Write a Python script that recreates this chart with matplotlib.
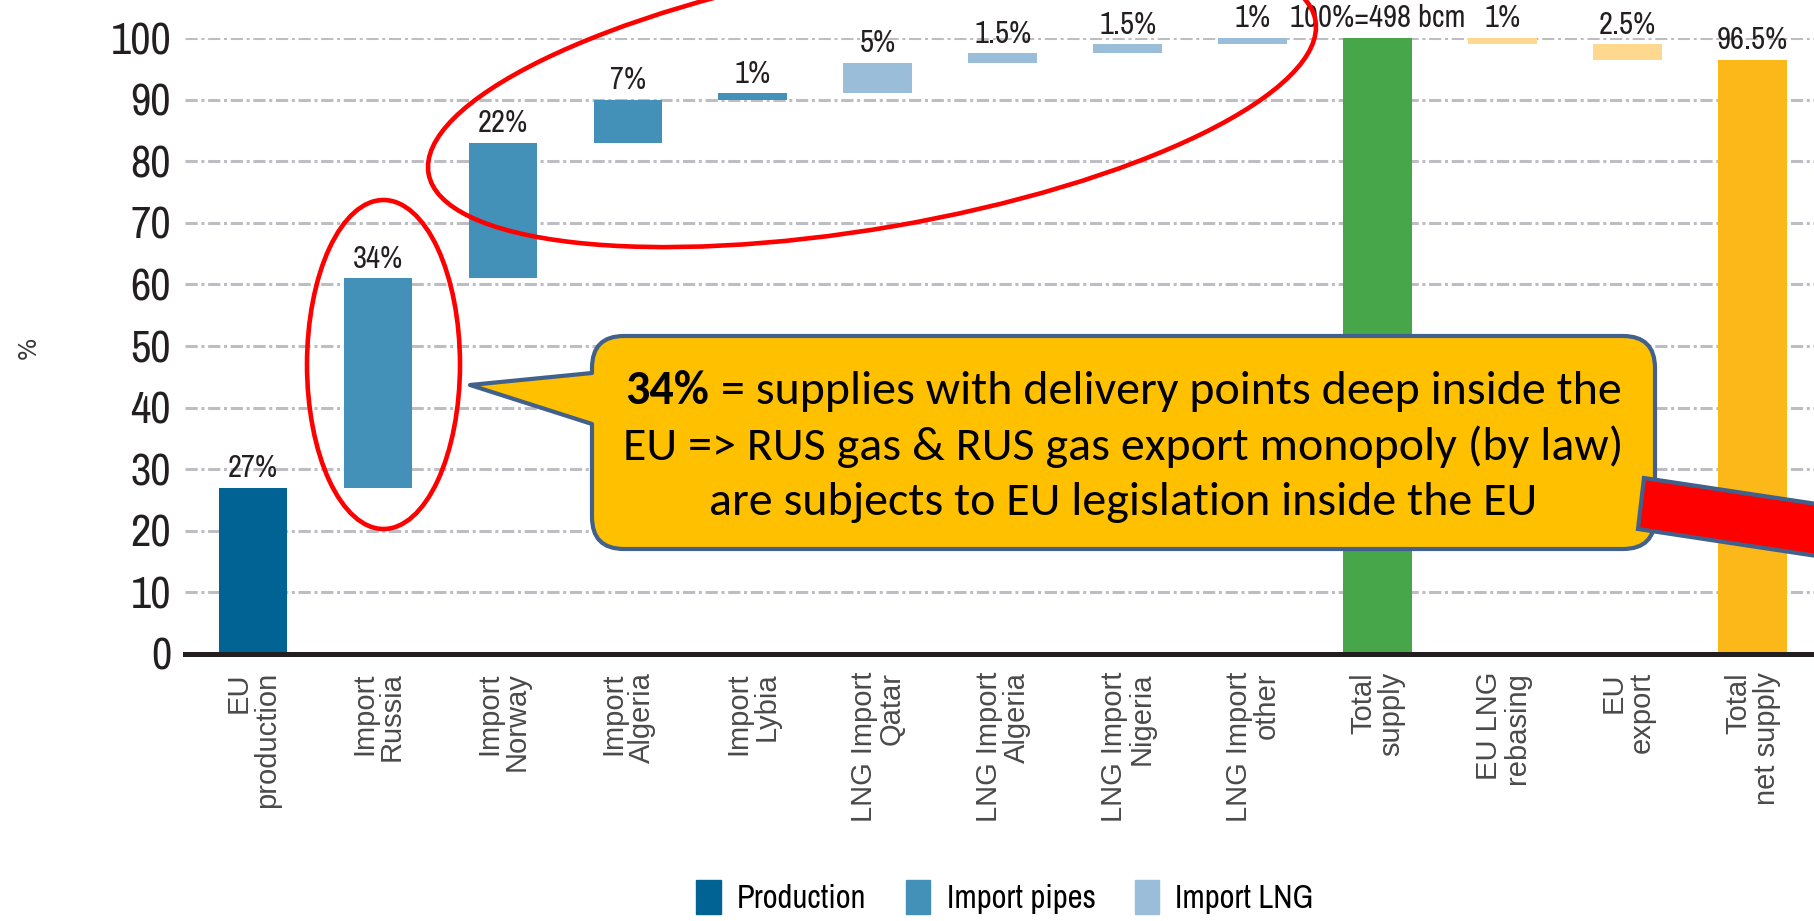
import matplotlib
matplotlib.use("Agg")
import matplotlib.pyplot as plt
from matplotlib.patches import Ellipse, Patch, PathPatch, Polygon
from matplotlib.path import Path

# --- data -------------------------------------------------------------
categories = ["EU\nproduction", "Import\nRussia", "Import\nNorway", "Import\nAlgeria",
              "Import\nLybia", "LNG Import\nQatar", "LNG Import\nAlgeria",
              "LNG Import\nNigeria", "LNG Import\nother", "Total\nsupply",
              "EU LNG\nrebasing", "EU\nexport", "Total\nnet supply"]
# step of each bar in % (None = total bar drawn from 0)
steps = [27, 34, 22, 7, 1, 5, 1.5, 1.5, 1, None, -1, -2.5, None]
value_labels = ["27%", "34%", "22%", "7%", "1%", "5%", "1.5%", "1.5%", "1%",
                "100%=498 bcm", "1%", "2.5%", "96.5%"]
kinds = ["Production", "Import pipes", "Import pipes", "Import pipes", "Import pipes",
         "Import LNG", "Import LNG", "Import LNG", "Import LNG",
         "total", "minus", "minus", "net"]
legend_items = ["Production", "Import pipes", "Import LNG"]

colors = {"Production": "#006393", "Import pipes": "#4390B8", "Import LNG": "#9ABEDA",
          "total": "#47A64A", "minus": "#FDD88E", "net": "#FBB818"}

callout_bold = "34%"
callout_lines = [" = supplies with delivery points deep inside the",
                 "EU => RUS gas & RUS gas export monopoly (by law)",
                 "are subjects to EU legislation inside the EU"]

# waterfall bottoms / heights
bottoms, heights = [], []
level = 0
for s in steps:
    if s is None:
        bottoms.append(0)
        heights.append(level)
    elif s >= 0:
        bottoms.append(level)
        heights.append(s)
        level += s
    else:
        level += s
        bottoms.append(level)
        heights.append(-s)

# --- figure -----------------------------------------------------------
W, H = 1814, 921
fig = plt.figure(figsize=(W / 100, H / 100), dpi=100)
narrow = ["Archivo Narrow", "Roboto Condensed", "DejaVu Sans"]

ax = fig.add_axes([185 / W, 1 - 654 / H, 1637 / W, 616 / H])
x = list(range(len(categories)))
ax.bar(x, heights, bottom=bottoms, width=0.55,
       color=[colors[k] for k in kinds], zorder=3)

for i in x:
    top = bottoms[i] + heights[i]
    ax.annotate(value_labels[i], (i, top), xytext=(0, 4), textcoords="offset points",
                ha="center", va="bottom", fontsize=22, family=narrow,
                color="#231F20", annotation_clip=False)

ax.set_xlim(-0.544, len(categories) - 0.444)
ax.set_ylim(0, 100)
ax.set_yticks(range(0, 101, 10))
ax.set_xticks(x)
ax.set_xticklabels(categories, rotation=90, ha="center", va="top",
                   multialignment="right", linespacing=1.0,
                   fontsize=21, family=["Liberation Sans", "DejaVu Sans"], color="#4A4A4A")
ax.tick_params(axis="x", length=0, pad=13)
ax.tick_params(axis="y", length=0, pad=10, labelsize=32, labelcolor="#231F20")
for lab in ax.get_yticklabels():
    lab.set_family(narrow)

for side in ["left", "right", "top"]:
    ax.spines[side].set_visible(False)
ax.spines["bottom"].set_linewidth(3.6)
ax.spines["bottom"].set_color("#231F20")
ax.spines["bottom"].set_zorder(4)
ax.yaxis.grid(True, color="#BDBDC3", linewidth=2.2, linestyle=(0, (4, 1.2, 1, 1.2)))
ax.set_axisbelow(True)

fig.text(29 / W, 1 - 348 / H, "%", rotation=90, fontsize=17, ha="center", va="center",
         color="#3A3A3A")

handles = [Patch(color=colors[k]) for k in legend_items]
fig.legend(handles, legend_items, loc="center", bbox_to_anchor=(1005 / W, 24 / H),
           ncol=3, frameon=False, prop={"family": narrow, "size": 23.5},
           handlelength=0.75, handleheight=1.25, handletextpad=0.5, columnspacing=1.2)

# --- overlay annotations in pixel coordinates ---------------------------
ov = fig.add_axes([0, 0, 1, 1])
ov.set_xlim(0, W)
ov.set_ylim(H, 0)
ov.axis("off")
ov.patch.set_alpha(0)

ov.add_patch(Ellipse((383.5, 364.5), 153, 329, fill=False, edgecolor="#FF0000", lw=3.3))
ov.add_patch(Ellipse((872, 97), 900, 262, angle=-9.8, fill=False,
                     edgecolor="#FF0000", lw=3.3))

# callout with pointer
L, R, T, B, r = 592, 1655, 336, 549, 32
verts = [(L + r, T), (R - r, T), (R, T), (R, T + r), (R, B - r), (R, B), (R - r, B),
         (L + r, B), (L, B), (L, B - r), (L, 424), (470, 385), (L, 373), (L, T + r),
         (L, T), (L + r, T), (L + r, T)]
codes = [Path.MOVETO, Path.LINETO, Path.CURVE3, Path.CURVE3, Path.LINETO, Path.CURVE3,
         Path.CURVE3, Path.LINETO, Path.CURVE3, Path.CURVE3, Path.LINETO, Path.LINETO,
         Path.LINETO, Path.LINETO, Path.CURVE3, Path.CURVE3, Path.CLOSEPOLY]
ov.add_patch(PathPatch(Path(verts, codes), facecolor="#FFC000", edgecolor="#41618C",
                       lw=3, joinstyle="round"))

ov.add_patch(Polygon([(1644, 478), (1830, 506), (1830, 558), (1638, 529)], closed=True,
                     facecolor="#FF0000", edgecolor="#41618C", lw=3))

cx = (L + R) / 2
line_y = [391, 447, 502]
tfont = dict(family=["Carlito", "Lato", "DejaVu Sans"], fontsize=31, color="black",
             va="center")
t_bold = ov.text(cx, line_y[0], callout_bold, fontweight="bold", ha="left", **tfont)
t_rest = ov.text(cx, line_y[0], callout_lines[0], ha="left", **tfont)
t2 = ov.text(cx, line_y[1], callout_lines[1], ha="center", **tfont)
t3 = ov.text(cx, line_y[2], callout_lines[2], ha="center", **tfont)

# fit the first callout line to the width it has in the reference (~995 px)
rend = fig.canvas.get_renderer()
w_line = t_bold.get_window_extent(rend).width + t_rest.get_window_extent(rend).width
size = 31 * 995 / w_line
for t in (t_bold, t_rest, t2, t3):
    t.set_fontsize(size)
wb = t_bold.get_window_extent(rend).width
wr = t_rest.get_window_extent(rend).width
x0 = cx - (wb + wr) / 2
t_bold.set_x(x0)
t_rest.set_x(x0 + wb)

fig.savefig("out.png", dpi=100)
